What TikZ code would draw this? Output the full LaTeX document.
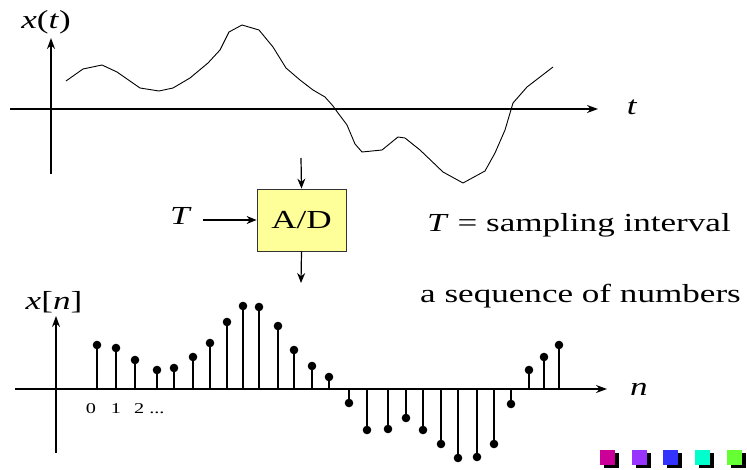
\documentclass[tikz,border=0pt]{standalone}
\usepackage{fontspec}
\setmainfont{Liberation Serif}[FakeStretch=1.35]
\usepackage{tikz}
\usetikzlibrary{arrows.meta}
\definecolor{boxyellow}{HTML}{FFFF99}
\definecolor{sqmagenta}{HTML}{CC0099}
\definecolor{sqpurple}{HTML}{9933FF}
\definecolor{sqblue}{HTML}{3333FF}
\definecolor{sqcyan}{HTML}{00FFCC}
\definecolor{sqgreen}{HTML}{66FF33}

\begin{document}
\begin{tikzpicture}[x=1pt,y=-1pt,
  axis/.style={line width=1.2pt,-{Stealth[length=11pt,width=8pt]}},
  conn/.style={line width=1.2pt,-{Stealth[length=10pt,width=8pt]}},
  big/.style={font=\fontsize{26}{30}\selectfont,inner sep=0pt},
  small/.style={font=\fontsize{15}{18}\selectfont,inner sep=0pt},
  adbox/.style={draw=black!80,line width=0.8pt,fill=boxyellow,minimum width=89pt,minimum height=62pt,font=\fontsize{26}{30}\selectfont}]
  \useasboundingbox (0,0) rectangle (747,470);
  % continuous-time signal
  \coordinate (ta) at (10,109);
  \coordinate (tb) at (598,109);
  \coordinate (xa) at (51,174);
  \coordinate (xb) at (51,38);
  \draw[axis] (ta) -- (tb);
  \draw[axis] (xa) -- (xb);
  \node[big,anchor=base] (xt) at (46,29) {\textit{x}(\textit{t})};
  \node[big,anchor=base] (tl) at (632,115) {\textit{t}};
  \draw[line width=0.9pt,line join=round] (66,81) -- (83,69) -- (102,65) -- (117,72) -- (140,88)
    -- (159,91) -- (173,88) -- (190,78) -- (208,63) -- (220,50) -- (229,32) -- (242,25)
    -- (259,30) -- (273,47) -- (286,68) -- (300,80) -- (313,90) -- (325,97) -- (333,106)
    -- (338,113) -- (347,125) -- (355,144) -- (362,152) -- (382,150) -- (398,137)
    -- (405,138) -- (420,150) -- (443,172) -- (463,183) -- (485,171) -- (495,153)
    -- (505,130) -- (513,103) -- (527,87) -- (553,67);
  % sampler
  \node[adbox] (ad) at (301.5,220) {A/D};
  \node[big,anchor=base] (T) at (181,225) {\textit{T}};
  \coordinate (adin) at (301,158);
  \coordinate (adout) at (301,283);
  \draw[conn] (adin) -- (ad.north);
  \draw[conn,shorten <=11pt] (T.east |- ad.west) -- (ad.west);
  \draw[conn] (ad.south) -- (adout);
  \node[big,anchor=base west] (tdef) at (427,232) {\textit{T} = sampling interval};
  \node[big,anchor=base west] (seq) at (420,303) {a sequence of numbers};
  % discrete-time signal
  \coordinate (na) at (15,389);
  \coordinate (nb) at (607,389);
  \coordinate (ya) at (56,453);
  \coordinate (yb) at (56,316);
  \draw[axis] (na) -- (nb);
  \draw[axis] (ya) -- (yb);
  \node[big,anchor=base] (xn) at (54,309) {\textit{x}[\textit{n}]};
  \node[big,anchor=base] (nl) at (639,395) {\textit{n}};
  \foreach \sx/\sy in {97/345,116/348,135/360,157/370,174/368,193/357,210/343,227/322,
      243/306,259/307,278/326,294/350,312/366,329/377,349/403,367/430,388/429,406/418,
      423/430,441/444,458/458,477/457,494/444,511/404,529/370,544/357,559/345} {
    \draw[line width=1.2pt] (\sx,389) -- (\sx,\sy);
    \fill (\sx,\sy) circle (4.3pt);
  }
  \node[small,anchor=base] (n0) at (91,413) {0};
  \node[small,anchor=base] (n1) at (116,413) {1};
  \node[small,anchor=base west] (n2) at (134,413) {2 ...};
  % slide buttons
  \foreach \sx/\col in {600/sqmagenta,632/sqpurple,663/sqblue,695/sqcyan,727/sqgreen} {
    \fill[black] (\sx+4,453) rectangle ++(15,15);
    \fill[\col] (\sx,450) rectangle ++(15,15);
  }
\end{tikzpicture}
\end{document}
